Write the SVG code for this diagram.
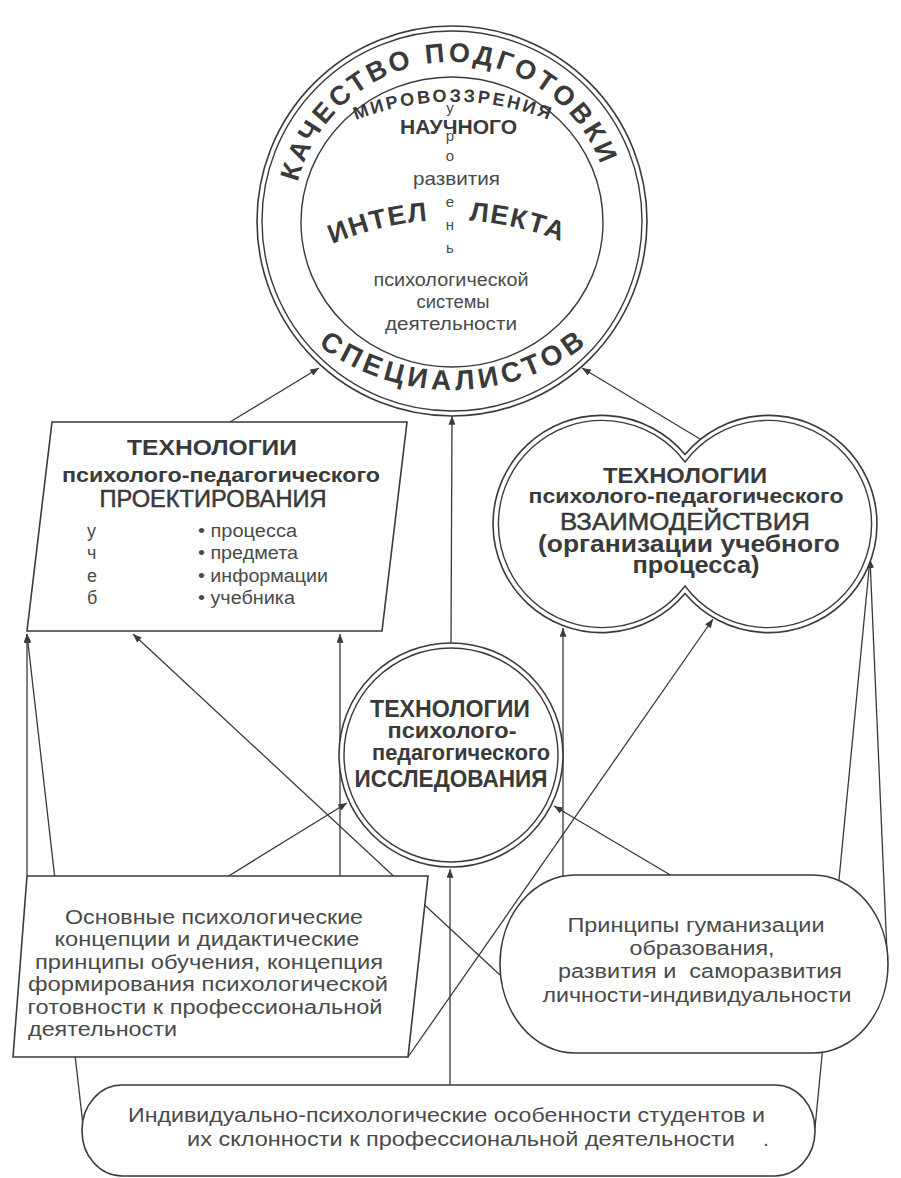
<svg xmlns="http://www.w3.org/2000/svg" width="901" height="1178" viewBox="0 0 901 1178">
<style>
.cn{stroke:#3a3a3a;stroke-width:1.3;fill:none;marker-end:url(#ah)}
.ln{stroke:#3a3a3a;stroke-width:1.4;fill:none}
.nd{fill:#fff;stroke:#3a3a3a;stroke-width:1.6}
.t{font-family:"Liberation Sans",Arial,sans-serif;fill:#3a3a3a}
.r{font-family:"Liberation Sans",Arial,sans-serif;fill:#4a4a4a}
.b{font-weight:bold}
.m{text-anchor:middle}
</style>
<defs>
<marker id="ah" viewBox="0 0 10 8" refX="10" refY="4" markerWidth="10" markerHeight="7" markerUnits="userSpaceOnUse" orient="auto"><path d="M0,0 L10,4 L0,8 z" fill="#3a3a3a"/></marker>
<path id="arcTop" d="M293,221 A159,159 0 0 1 611,221"/>
<path id="arcBot" d="M230,168 A222,222 0 0 0 674,168"/>
<path id="arcMir" d="M340,127 A263,263 0 0 1 565,127"/>
<path id="arcInt" d="M300,260.2 A300,300 0 0 1 600,260.2"/>
</defs>
<rect width="901" height="1178" fill="#fff"/>

<g id="connectors">
<line x1="230" y1="422" x2="319" y2="368" class="cn"/>
<line x1="451" y1="643" x2="452" y2="416" class="cn"/>
<line x1="700" y1="439" x2="582" y2="368" class="cn"/>
<line x1="27" y1="876" x2="27" y2="634" class="cn"/>
<line x1="83" y1="1125" x2="27" y2="634" class="cn"/>
<line x1="227" y1="877" x2="347" y2="803" class="cn"/>
<line x1="500" y1="975" x2="133" y2="634" class="cn"/>
<line x1="340" y1="876" x2="340" y2="634" class="cn"/>
<line x1="450" y1="1085" x2="450" y2="869" class="cn"/>
<line x1="408" y1="1057" x2="713" y2="619" class="cn"/>
<line x1="563" y1="877" x2="563" y2="628" class="cn"/>
<line x1="672" y1="876" x2="554" y2="806" class="cn"/>
<line x1="815" y1="1128" x2="870" y2="559" class="cn"/>
<line x1="887" y1="953" x2="870" y2="559" class="cn"/>
</g>

<g id="node-quality">
<circle cx="452" cy="221" r="195" class="nd"/>
<circle cx="452" cy="221" r="190" class="ln"/>
<ellipse cx="452" cy="222" rx="151" ry="145" class="ln"/>
<text class="t b" font-size="27" letter-spacing="3.4"><textPath href="#arcTop" startOffset="242" text-anchor="middle">КАЧЕСТВО ПОДГОТОВКИ</textPath></text>
<text class="t b" font-size="28" letter-spacing="4.5"><textPath href="#arcBot" startOffset="351" text-anchor="middle">СПЕЦИАЛИСТОВ</textPath></text>
<text class="t b" font-size="18" letter-spacing="2.6"><textPath href="#arcMir" startOffset="117" text-anchor="middle">МИРОВОЗЗРЕНИЯ</textPath></text>
<text class="t b" x="400" y="134" font-size="20" textLength="117" lengthAdjust="spacingAndGlyphs">НАУЧНОГО</text>
<text class="t b" font-size="27" letter-spacing="1.5"><textPath href="#arcInt" startOffset="36">ИНТЕЛ</textPath></text>
<text class="t b" font-size="27" letter-spacing="1.5"><textPath href="#arcInt" startOffset="176">ЛЕКТА</textPath></text>
<g class="r m" font-size="15">
<text x="450" y="113">у</text>
<text x="450" y="141">р</text>
<text x="450" y="161">о</text>
<text x="450" y="207">е</text>
<text x="450" y="230">н</text>
<text x="450" y="253">ь</text>
</g>
<text class="r" x="413" y="185" font-size="19" textLength="87" lengthAdjust="spacingAndGlyphs">развития</text>
<text class="r m" x="451" y="286" font-size="18" textLength="155" lengthAdjust="spacingAndGlyphs">психологической</text>
<text class="r m" x="453" y="308" font-size="18" textLength="73" lengthAdjust="spacingAndGlyphs">системы</text>
<text class="r m" x="451" y="330" font-size="18" textLength="132" lengthAdjust="spacingAndGlyphs">деятельности</text>
</g>

<g id="node-design">
<polygon points="52,422 407,422 382,631 27,631" class="nd"/>
<text class="t b m" x="212" y="455" font-size="22" textLength="170" lengthAdjust="spacingAndGlyphs">ТЕХНОЛОГИИ</text>
<text class="t b m" x="221" y="482" font-size="21" textLength="318" lengthAdjust="spacingAndGlyphs">психолого-педагогического</text>
<text class="t m" x="213" y="507" font-size="23" stroke="#3a3a3a" stroke-width="0.5" textLength="227" lengthAdjust="spacingAndGlyphs">ПРОЕКТИРОВАНИЯ</text>
<g class="r" font-size="18">
<text x="87" y="537">у</text>
<text x="87" y="559">ч</text>
<text x="87" y="582">е</text>
<text x="87" y="604">б</text>
<text x="198" y="537" textLength="99" lengthAdjust="spacingAndGlyphs">• процесса</text>
<text x="198" y="559" textLength="100" lengthAdjust="spacingAndGlyphs">• предмета</text>
<text x="198" y="582" textLength="130" lengthAdjust="spacingAndGlyphs">• информации</text>
<text x="198" y="604" textLength="97" lengthAdjust="spacingAndGlyphs">• учебника</text>
</g>
</g>

<g id="node-interaction">
<path d="M685,454.4 A108.6,108.6 0 1 0 685,593.6 A108.6,108.6 0 1 0 685,454.4 Z" class="nd"/>
<path d="M685,462 A103.6,103.6 0 1 0 685,586 A103.6,103.6 0 1 0 685,462 Z" class="ln"/>
<text class="t b m" x="685" y="483" font-size="22" textLength="164" lengthAdjust="spacingAndGlyphs">ТЕХНОЛОГИИ</text>
<text class="t b m" x="686" y="503" font-size="21" textLength="315" lengthAdjust="spacingAndGlyphs">психолого-педагогического</text>
<text class="t m" x="685" y="530" font-size="23" stroke="#3a3a3a" stroke-width="0.5" textLength="250" lengthAdjust="spacingAndGlyphs">ВЗАИМОДЕЙСТВИЯ</text>
<text class="t b m" x="689" y="552" font-size="24" textLength="302" lengthAdjust="spacingAndGlyphs">(организации учебного</text>
<text class="t b m" x="696" y="573" font-size="24" textLength="127" lengthAdjust="spacingAndGlyphs">процесса)</text>
</g>

<g id="node-research">
<circle cx="451" cy="755" r="112" class="nd"/>
<circle cx="451" cy="755" r="107" class="ln"/>
<text class="t b m" x="450" y="717" font-size="24" textLength="160" lengthAdjust="spacingAndGlyphs">ТЕХНОЛОГИИ</text>
<text class="t b m" x="452" y="738" font-size="22" textLength="129" lengthAdjust="spacingAndGlyphs">психолого-</text>
<text class="t b m" x="461" y="760" font-size="22" textLength="178" lengthAdjust="spacingAndGlyphs">педагогического</text>
<text class="t b m" x="451" y="787" font-size="24" textLength="193" lengthAdjust="spacingAndGlyphs">ИССЛЕДОВАНИЯ</text>
</g>

<g id="node-concepts">
<polygon points="27,876 428,876 408,1057 13,1057" class="nd"/>
<g class="r" font-size="20">
<text class="m" x="214" y="924" textLength="298" lengthAdjust="spacingAndGlyphs">Основные психологические</text>
<text class="m" x="207" y="946" textLength="305" lengthAdjust="spacingAndGlyphs">концепции и дидактические</text>
<text class="m" x="209" y="969" textLength="348" lengthAdjust="spacingAndGlyphs">принципы обучения, концепция</text>
<text class="m" x="208" y="991" textLength="360" lengthAdjust="spacingAndGlyphs">формирования психологической</text>
<text class="m" x="205" y="1014" textLength="355" lengthAdjust="spacingAndGlyphs">готовности к профессиональной</text>
<text x="28" y="1036" textLength="149" lengthAdjust="spacingAndGlyphs">деятельности</text>
</g>
</g>

<g id="node-principles">
<rect x="500" y="875" width="388" height="178" rx="75" ry="89" class="nd"/>
<g class="r m" font-size="20">
<text x="696" y="932" textLength="257" lengthAdjust="spacingAndGlyphs">Принципы гуманизации</text>
<text x="702" y="955" textLength="145" lengthAdjust="spacingAndGlyphs">образования,</text>
<text x="700" y="978" textLength="284" lengthAdjust="spacingAndGlyphs">развития и&#160; саморазвития</text>
<text x="697" y="1002" textLength="309" lengthAdjust="spacingAndGlyphs">личности-индивидуальности</text>
</g>
</g>

<g id="node-individual">
<rect x="82" y="1085" width="733" height="91" rx="40" ry="45" class="nd"/>
<g class="r" font-size="21">
<text x="128" y="1122" textLength="637" lengthAdjust="spacingAndGlyphs">Индивидуально-психологические особенности студентов и</text>
<text x="187" y="1146" textLength="548" lengthAdjust="spacingAndGlyphs">их склонности к профессиональной деятельности</text>
<text x="763" y="1146">.</text>
</g>
</g>
</svg>
